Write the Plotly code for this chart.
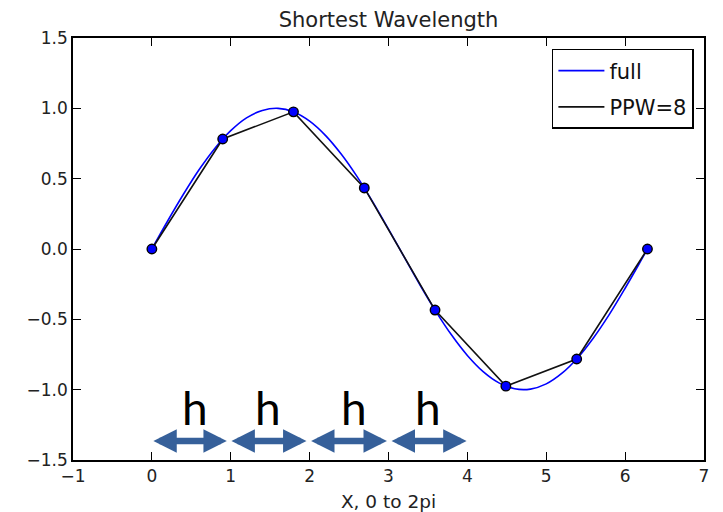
import plotly.graph_objects as go

# full curve
full_x = [0.0, 0.2, 0.4, 0.6, 0.8, 1.0, 1.2, 1.4, 1.6, 1.8, 2.0, 2.2, 2.4, 2.6, 2.8, 3.0,
          3.2, 3.4, 3.6, 3.8, 4.0, 4.2, 4.4, 4.6, 4.8, 5.0, 5.2, 5.4, 5.6, 5.8, 6.0, 6.2, 6.283]
full_y = [0.0, 0.199, 0.389, 0.565, 0.717, 0.841, 0.932, 0.985, 1.0, 0.974, 0.909, 0.808,
          0.675, 0.516, 0.335, 0.141, -0.058, -0.256, -0.443, -0.612, -0.757, -0.872,
          -0.952, -0.994, -0.996, -0.959, -0.883, -0.773, -0.631, -0.465, -0.279, -0.083, 0.0]

# PPW=8 samples
ppw_x = [0.0, 0.898, 1.795, 2.693, 3.590, 4.488, 5.386, 6.283]
ppw_y = [0.0, 0.782, 0.975, 0.434, -0.434, -0.975, -0.782, 0.0]

# spacing arrows and labels
arrow_start = [0.0, 0.99, 2.0, 3.02]
arrow_end = [0.95, 1.96, 2.98, 3.99]
arrow_y = -1.365
h_x = [0.55, 1.47, 2.56, 3.5]
h_y = -1.13
h_text = ["h", "h", "h", "h"]

x_ticks = [-1, 0, 1, 2, 3, 4, 5, 6, 7]
y_ticks = [-1.5, -1.0, -0.5, 0.0, 0.5, 1.0, 1.5]

FONT = "DejaVu Sans"
ARROW_COLOR = "#36609A"

fig = go.Figure()
fig.add_trace(go.Scatter(x=full_x, y=full_y, mode="lines", name="full", legendgroup="a",
                         line=dict(color="#0000ff", width=1.6, shape="spline")))
fig.add_trace(go.Scatter(x=ppw_x, y=ppw_y, mode="lines", name="PPW=8", legendgroup="b",
                         line=dict(color="#111111", width=1.6)))
fig.add_trace(go.Scatter(x=ppw_x, y=ppw_y, mode="markers", showlegend=False,
                         marker=dict(color="#0000ff", size=9.5,
                                     line=dict(color="#000000", width=1.4))))

annotations = []
for s, e in zip(arrow_start, arrow_end):
    annotations.append(dict(
        x=e, y=arrow_y, ax=s, ay=arrow_y, xref="x", yref="y", axref="x", ayref="y",
        text="", showarrow=True, arrowside="end+start",
        arrowhead=2, startarrowhead=2, arrowsize=0.72, startarrowsize=0.72,
        arrowwidth=6.5, arrowcolor=ARROW_COLOR, standoff=0, startstandoff=0))
for hx, t in zip(h_x, h_text):
    annotations.append(dict(x=hx, y=h_y, xref="x", yref="y", text=t, showarrow=False,
                            font=dict(family="Lato", size=46, color="#000000")))

axis_common = dict(showline=True, linecolor="#000000", linewidth=1.5, mirror="ticks",
                   ticks="inside", ticklen=8, tickwidth=1, tickcolor="#000000",
                   showgrid=False, zeroline=False, automargin=False,
                   tickfont=dict(family=FONT, size=17, color="#222222"))

fig.update_layout(
    width=723, height=512,
    margin=dict(l=73, r=19, t=38, b=52),
    paper_bgcolor="white", plot_bgcolor="white",
    title=dict(text="Shortest Wavelength", x=0.5 + (73 - 19) / 2 / 723, xanchor="center",
               y=1 - 20 / 512, yanchor="middle",
               font=dict(family=FONT, size=21, color="#222222")),
    xaxis=dict(range=[-1, 7], tickvals=x_ticks, **axis_common,
               title=dict(text="X, 0 to 2pi", standoff=12,
                          font=dict(family=FONT, size=18.5, color="#222222"))),
    yaxis=dict(range=[-1.5, 1.5], tickvals=y_ticks, tickformat=".1f", **axis_common),
    legend=dict(x=0.984, y=0.974, xanchor="right", yanchor="top",
                bordercolor="#000000", borderwidth=1.5, bgcolor="white",
                itemwidth=46, traceorder="grouped", tracegroupgap=6,
                entrywidth=104, entrywidthmode="pixels",
                font=dict(family=FONT, size=21, color="#111111")),
    annotations=annotations,
    showlegend=True,
)

fig.write_html("out.html")
